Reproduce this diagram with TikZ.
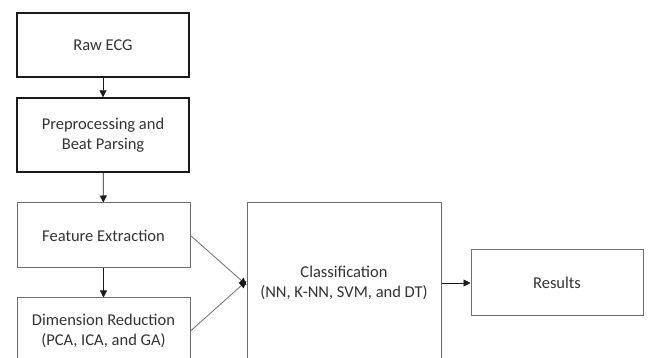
\documentclass[tikz,border=0pt]{standalone}
\usepackage{fontspec}
\setmainfont{Carlito}
\usetikzlibrary{arrows.meta}
\definecolor{ecgtext}{HTML}{333333}
\definecolor{ecgline}{HTML}{6E6E6E}
\definecolor{ecgdark}{HTML}{1A1A1A}

\begin{document}
\begin{tikzpicture}[x=1pt,y=-1pt,
  blk/.style={rectangle,draw=ecgline,line width=1pt,text=ecgtext,
              font=\fontsize{16.5}{20}\selectfont,align=center,inner sep=0pt},
  blkdark/.style={blk,draw=ecgdark,line width=1.4pt},
  arr/.style={ecgdark,line width=0.8pt,
              -{Triangle[length=7pt,width=7pt,color=ecgdark]}}
]
\useasboundingbox (0,0) rectangle (649,358);
\clip (0,0) rectangle (649,358);

% ---- Processing chain (left column) ------------------------
\node[blkdark,minimum width=172,minimum height=64]
  (raw) at (103,45) {Raw ECG};
\node[blkdark,minimum width=172,minimum height=74]
  (pre) at (103,135) {Preprocessing and\\Beat Parsing};
\node[blk,minimum width=173,minimum height=65]
  (fex) at (103.5,235.5) {Feature Extraction};
\node[blk,minimum width=173,minimum height=66]
  (dim) at (103.5,331) {Dimension Reduction\\(PCA, ICA, and GA)};

% ---- Classifier and output ---------------------------------
\node[blk,minimum width=194,minimum height=160]
  (cls) at (344,283) {Classification\\(NN, K-NN, SVM, and DT)};
\node[blk,minimum width=172,minimum height=66]
  (res) at (557,283) {Results};

% ---- Edges -------------------------------------------------
\draw[arr] (raw) -- (pre);
\draw[arr] (pre) -- (fex);
\draw[arr] (fex) -- (dim);
\draw[arr,ecgline] (fex.east) -- ([yshift=-2]cls.west);
\draw[arr,ecgline] (dim.east) -- ([yshift=2]cls.west);
\draw[arr] (cls) -- (res);

\end{tikzpicture}
\end{document}
